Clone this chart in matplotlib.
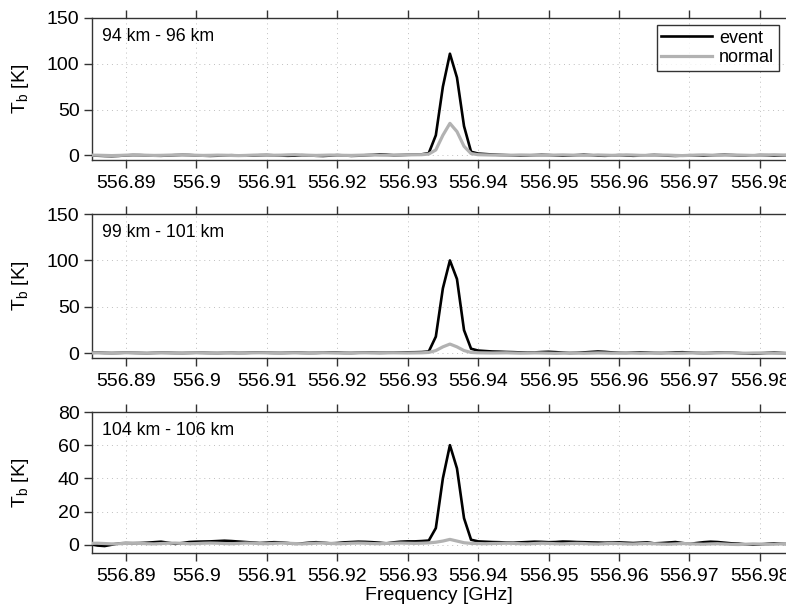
import numpy as np
import matplotlib
matplotlib.use("Agg")
import matplotlib.pyplot as plt

plt.rcParams['font.family'] = ['Liberation Sans', 'DejaVu Sans']

# Frequency grid [GHz], 1 MHz channels
freq = np.round(np.arange(556.885, 556.9855, 0.001), 4)

layer_labels = ["94 km - 96 km", "99 km - 101 km", "104 km - 106 km"]

# Brightness temperature spectra [K]
event_94 = [
    0.0, -0.3, -0.6, -0.8, -0.5, 0.0, 0.4, 0.3, 0.0, -0.3,
    -0.4, -0.1, 0.3, 0.6, 0.4, 0.0, -0.3, -0.5, -0.3, 0.0,
    0.2, 0.0, -0.3, -0.2, 0.2, 0.4, 0.1, -0.2, -0.4, -0.2,
    0.2, 0.0, -0.4, -0.6, -0.2, 0.3, 0.0, -0.5, -0.3, 0.2,
    0.6, 1.2, 0.8, 0.2, 0.4, 0.7, 0.9, 1.2, 2.5, 22.0,
    75.0, 111.0, 85.0, 32.0, 4.0, 2.0, 1.5, 1.0, 0.6, 0.3,
    0.0, -0.2, 0.0, 0.3, 0.6, 0.4, 0.0, -0.3, -0.1, 0.3,
    0.7, 0.3, -0.2, -0.4, -0.1, 0.3, 0.0, -0.4, -0.2, 0.2,
    0.5, 0.2, -0.3, -0.5, -0.2, 0.2, 0.0, -0.3, 0.0, 0.4,
    0.7, 0.4, 0.0, -0.3, 0.0, 0.4, 0.2, -0.2, 0.0, 0.3,
    0.2,
]
normal_94 = [
    0.3, 0.2, 0.0, -0.2, 0.0, 0.3, 0.5, 0.4, 0.2, 0.0,
    0.1, 0.3, 0.5, 0.6, 0.4, 0.2, 0.0, 0.1, 0.3, 0.2,
    0.0, -0.2, 0.0, 0.3, 0.5, 0.4, 0.2, 0.3, 0.6, 0.8,
    0.5, 0.2, 0.0, 0.2, 0.4, 0.3, 0.1, 0.0, 0.2, 0.4,
    0.5, 0.3, 0.2, 0.4, 0.5, 0.6, 0.7, 0.8, 1.5, 6.0,
    22.0, 35.0, 26.0, 10.0, 2.0, 0.8, 0.6, 0.4, 0.3, 0.2,
    0.3, 0.5, 0.4, 0.2, 0.0, 0.2, 0.4, 0.6, 0.4, 0.2,
    0.0, 0.2, 0.5, 0.3, 0.1, 0.3, 0.6, 0.4, 0.1, 0.0,
    0.2, 0.4, 0.3, 0.0, -0.2, 0.1, 0.4, 0.6, 0.3, 0.1,
    0.3, 0.5, 0.4, 0.2, 0.0, 0.2, 0.5, 0.7, 0.5, 0.3,
    0.4,
]
event_99 = [
    0.6, 0.8, 0.5, 0.3, 0.5, 0.8, 0.6, 0.4, 0.2, 0.5,
    0.7, 0.6, 0.4, 0.3, 0.5, 0.7, 0.6, 0.4, 0.3, 0.5,
    0.6, 0.4, 0.5, 0.8, 1.0, 0.7, 0.5, 0.4, 0.6, 0.8,
    0.6, 0.4, 0.5, 0.8, 1.0, 0.8, 0.5, 0.4, 0.7, 1.0,
    0.8, 0.6, 0.7, 0.9, 1.0, 1.1, 1.2, 1.4, 2.0, 18.0,
    70.0, 100.0, 80.0, 25.0, 5.0, 3.0, 2.5, 2.0, 1.8, 1.5,
    1.3, 1.0, 0.8, 1.0, 1.4, 1.7, 1.3, 0.8, 0.4, 0.6,
    1.0, 1.5, 2.0, 1.6, 1.0, 0.6, 0.5, 0.8, 1.0, 0.8,
    0.5, 0.4, 0.7, 1.0, 1.2, 0.9, 0.5, 0.3, 0.5, 0.9,
    1.1, 0.8, 0.3, -0.2, -0.4, 0.0, 0.5, 0.8, 0.4, 0.0,
    -0.2,
]
normal_99 = [
    0.4, 0.5, 0.3, 0.2, 0.4, 0.6, 0.5, 0.3, 0.2, 0.4,
    0.5, 0.4, 0.2, 0.3, 0.5, 0.6, 0.4, 0.2, 0.3, 0.5,
    0.4, 0.2, 0.3, 0.5, 0.6, 0.5, 0.3, 0.2, 0.4, 0.5,
    0.3, 0.2, 0.4, 0.6, 0.5, 0.3, 0.2, 0.3, 0.5, 0.6,
    0.4, 0.3, 0.5, 0.6, 0.5, 0.4, 0.5, 0.6, 1.0, 3.0,
    7.0, 10.0, 7.0, 3.0, 1.0, 0.6, 0.5, 0.4, 0.5, 0.6,
    0.4, 0.2, 0.3, 0.5, 0.4, 0.2, 0.0, 0.2, 0.4, 0.3,
    0.1, 0.3, 0.5, 0.4, 0.2, 0.3, 0.5, 0.3, 0.1, 0.2,
    0.4, 0.5, 0.3, 0.1, 0.2, 0.4, 0.5, 0.3, 0.2, 0.4,
    0.6, 0.5, 0.3, 0.2, 0.4, 0.5, 0.3, 0.1, 0.0, 0.1,
    0.2,
]
event_104 = [
    0.2, -0.5, -0.8, 0.0, 0.8, 1.0, 0.9, 1.0, 1.2, 1.5,
    1.8, 1.2, 0.5, 1.0, 1.6, 1.8, 1.9, 2.0, 2.2, 2.4,
    2.2, 1.9, 1.6, 1.3, 1.0, 1.2, 1.5, 1.4, 1.0, 0.5,
    0.8, 1.2, 1.5, 1.2, 0.8, 1.0, 1.4, 1.6, 1.8, 1.7,
    1.5, 1.2, 0.8, 1.4, 1.8, 2.0, 2.0, 2.2, 2.5, 10.0,
    40.0, 60.0, 46.0, 16.0, 3.0, 2.0, 1.8, 1.6, 1.5, 1.3,
    1.2, 1.4, 1.6, 1.8, 1.7, 1.5, 1.6, 1.9, 1.8, 1.6,
    1.5, 1.4, 1.3, 1.2, 1.3, 1.4, 1.2, 1.0, 1.2, 1.4,
    0.8, 1.0, 1.3, 1.6, 1.0, 0.5, 1.0, 1.5, 1.8, 1.6,
    1.2, 0.8, 0.6, 0.2, 0.0, 0.2, 0.5, 0.8, 0.6, 0.4,
    0.5,
]
normal_104 = [
    0.8, 0.9, 0.7, 0.5, 0.6, 0.8, 0.9, 0.8, 0.6, 0.5,
    0.7, 0.9, 1.0, 0.8, 0.6, 0.7, 0.9, 1.0, 0.9, 0.7,
    0.6, 0.8, 1.0, 0.9, 0.7, 0.6, 0.8, 1.0, 0.9, 0.7,
    0.5, 0.7, 0.9, 1.0, 0.8, 0.6, 0.7, 0.9, 1.0, 0.9,
    0.7, 0.6, 0.8, 0.9, 1.0, 0.9, 0.8, 0.9, 1.1, 1.5,
    2.2, 3.2, 2.2, 1.2, 0.8, 0.7, 0.6, 0.7, 0.8, 0.9,
    0.8, 0.6, 0.5, 0.7, 0.9, 0.8, 0.6, 0.5, 0.7, 0.8,
    0.7, 0.5, 0.4, 0.6, 0.8, 0.7, 0.5, 0.4, 0.6, 0.7,
    0.6, 0.4, 0.3, 0.5, 0.7, 0.6, 0.4, 0.3, 0.5, 0.6,
    0.4, 0.2, 0.1, 0.3, 0.5, 0.4, 0.2, 0.3, 0.5, 0.6,
    0.7,
]

event_series = [event_94, event_99, event_104]
normal_series = [normal_94, normal_99, normal_104]

y_limits = [(-5, 150), (-5, 150), (-5, 80)]
y_ticks = [[0, 50, 100, 150], [0, 50, 100, 150], [0, 20, 40, 60, 80]]
x_ticks = [556.89, 556.90, 556.91, 556.92, 556.93, 556.94,
           556.95, 556.96, 556.97, 556.98]
x_tick_labels = ["556.89", "556.9", "556.91", "556.92", "556.93", "556.94",
                 "556.95", "556.96", "556.97", "556.98"]

W, H = 786, 610
fig = plt.figure(figsize=(W / 100, H / 100), dpi=100)

# panel boxes in pixels: (top, bottom)
boxes = [(18, 160), (214, 358), (412, 553)]
left_px = 92

spine_col = "#333333"
gray = "#b2b2b2"
fs = 14

axes = []
for i, (top, bot) in enumerate(boxes):
    ax = fig.add_axes([left_px / W, 1 - bot / H, 1 - left_px / W, (bot - top) / H])
    axes.append(ax)
    ax.plot(freq, event_series[i], color="black", lw=1.9, label="event", zorder=2)
    ax.plot(freq, normal_series[i], color=gray, lw=2.3, label="normal", zorder=3)
    ax.set_xlim(556.8852, 556.9837)
    ax.set_ylim(*y_limits[i])
    ax.set_xticks(x_ticks)
    ax.set_xticklabels(x_tick_labels)
    ax.set_yticks(y_ticks[i])
    ax.grid(True, linestyle=(0, (1, 4)), color="#bfbfbf", linewidth=0.7)
    ax.tick_params(axis="x", which="both", direction="out", top=True, bottom=True,
                   length=6, width=1.0, color=spine_col, labelsize=fs, pad=5)
    ax.tick_params(axis="y", direction="out", left=True, right=False,
                   length=6, width=1.0, color=spine_col, labelsize=fs, pad=3)
    for s in ["left", "top", "bottom"]:
        ax.spines[s].set_color(spine_col)
        ax.spines[s].set_linewidth(1.0)
    ax.spines["right"].set_visible(False)
    ax.set_ylabel(r"T$_\mathregular{b}$ [K]", fontsize=fs)
    ax.yaxis.set_label_coords(-0.088, 0.5)
    ax.text(0.014, 0.87, layer_labels[i], transform=ax.transAxes,
            fontsize=12.8, ha="left", va="center")

leg = axes[0].legend(loc="upper right", fontsize=13, frameon=True, fancybox=False,
                     edgecolor="black", borderaxespad=0.4, handlelength=2.8,
                     handletextpad=0.4, borderpad=0.25, labelspacing=0.15)
leg.get_frame().set_linewidth(1.0)

axes[2].set_xlabel("Frequency [GHz]", fontsize=fs, labelpad=1)

fig.savefig("out.png", dpi=100)
